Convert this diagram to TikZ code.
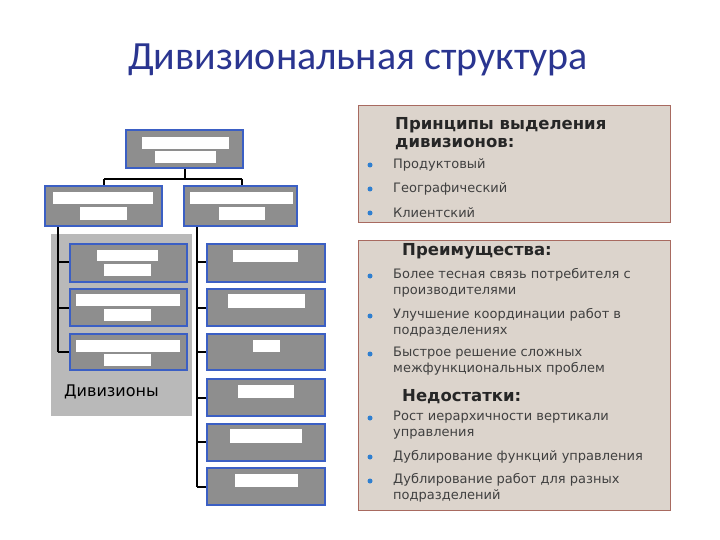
\documentclass[tikz,border=0pt]{standalone}
\usepackage{fontspec}
\setmainfont{DejaVu Sans}
\newfontfamily\titlefont{Carlito}
\definecolor{obc}{HTML}{3B5FC4}
\definecolor{boxg}{HTML}{8E8E8E}
\definecolor{panc}{HTML}{DCD4CC}
\definecolor{pand}{HTML}{A86A60}
\definecolor{titc}{HTML}{2A3590}
\definecolor{bulc}{HTML}{2F7FD0}
\begin{document}
\begin{tikzpicture}[x=1pt,y=-1pt,
  ob/.style={draw=obc, line width=2.8pt, fill=boxg},
  wb/.style={fill=white},
  ln/.style={line width=1.3pt,black},
  pan/.style={draw=pand, line width=0.9pt, fill=panc},
  itm/.style={anchor=west, font=\fontsize{13}{15.5}\selectfont, text=black!75, align=left, inner sep=0pt},
  hd/.style={anchor=west, font=\fontsize{16.5}{18}\selectfont\bfseries, text=black!85, align=left, inner sep=0pt},
  bul/.style={circle, fill=bulc, inner sep=0pt, minimum size=5pt}]
\useasboundingbox (0,0) rectangle (720,540);
\node (title) at (358,60) {\titlefont\fontsize{40}{42}\selectfont\color{titc}Дивизиональная структура};
% gray region
\fill[gray!55] (51,234) rectangle (192,416);
\node[anchor=west, font=\fontsize{16}{18}\selectfont, inner sep=0pt] (div) at (64,392) {Дивизионы};
% connectors
\draw[ln] (185,168) -- (185,179);
\draw[ln] (104,179) -- (242,179);
\draw[ln] (104,179) -- (104,186);
\draw[ln] (242,179) -- (242,186);
\draw[ln] (58,226) -- (58,352);
\foreach \y in {262,308,352} \draw[ln] (58,\y) -- (70,\y);
\draw[ln] (197,226) -- (197,487);
\foreach \y in {262,308,352,398,442,487} \draw[ln] (197,\y) -- (207,\y);
% boxes
\draw[ob] (126,130) rectangle (243,168);
\fill[wb] (142,137) rectangle (229,149); \fill[wb] (155,151) rectangle (216,163);
\draw[ob] (45,186) rectangle (162,226);
\fill[wb] (53,192) rectangle (153,204); \fill[wb] (80,207) rectangle (127,220);
\draw[ob] (184,186) rectangle (297,226);
\fill[wb] (190,192) rectangle (293,204); \fill[wb] (219,207) rectangle (265,220);
\draw[ob] (70,244) rectangle (187,282);
\fill[wb] (97,250) rectangle (158,261); \fill[wb] (104,264) rectangle (151,276);
\draw[ob] (70,289) rectangle (187,326);
\fill[wb] (76,294) rectangle (180,306); \fill[wb] (104,309) rectangle (151,321);
\draw[ob] (70,334) rectangle (187,370);
\fill[wb] (76,340) rectangle (180,352); \fill[wb] (104,354) rectangle (151,366);
\draw[ob] (207,244) rectangle (325,282); \fill[wb] (233,250) rectangle (298,262);
\draw[ob] (207,289) rectangle (325,326); \fill[wb] (228,294) rectangle (305,308);
\draw[ob] (207,334) rectangle (325,370); \fill[wb] (253,340) rectangle (280,352);
\draw[ob] (207,379) rectangle (325,416); \fill[wb] (238,385) rectangle (294,398);
\draw[ob] (207,424) rectangle (325,461); \fill[wb] (230,429) rectangle (302,443);
\draw[ob] (207,468) rectangle (325,505); \fill[wb] (235,474) rectangle (298,487);
% panels
\draw[pan] (358,105) rectangle (670,222);
\draw[pan] (358,240) rectangle (670,510);
\node[hd] (h1) at (395,134) {Принципы выделения\\дивизионов:};
\foreach \y/\t in {165/Продуктовый,189/Географический,213/Клиентский}{
  \node[bul] at (370,\y) {}; \node[itm] at (393,\y) {\t};}
\node[hd] (h2) at (402,251) {Преимущества:};
\foreach \y/\t in {283/{Более тесная связь потребителя с\\производителями},323/{Улучшение координации работ в\\подразделениях},361/{Быстрое решение сложных\\межфункциональных проблем}}{
  \node[bul] at (370,\y-7) {}; \node[itm] at (393,\y) {\t};}
\node[hd] (h3) at (402,397) {Недостатки:};
\foreach \y/\t in {425/{Рост иерархичности вертикали\\управления},488/{Дублирование работ для разных\\подразделений}}{
  \node[bul] at (370,\y-7) {}; \node[itm] at (393,\y) {\t};}
\node[bul] at (370,457) {}; \node[itm] at (393,457) {Дублирование функций управления};
\end{tikzpicture}
\end{document}
